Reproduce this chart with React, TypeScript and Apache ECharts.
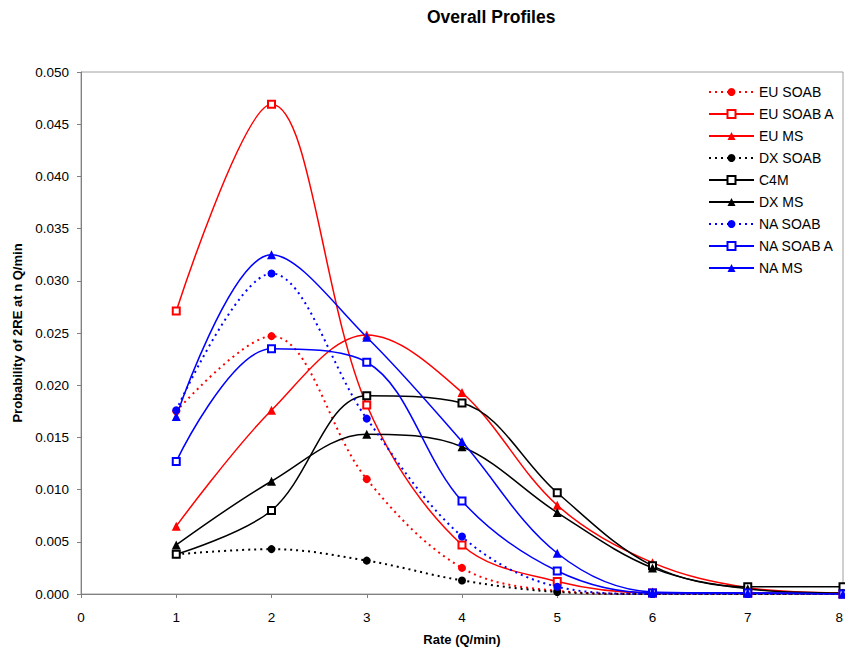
import React, { useEffect, useRef } from "react";
import * as echarts from "echarts";

const rates = [1, 2, 3, 4, 5, 6, 7, 8];
const euSoab = [0.0175, 0.0247, 0.011, 0.0025, 0.0003, 0.0, 0.0, 0.0];
const euSoabA = [0.0271, 0.0469, 0.0181, 0.0047, 0.0012, 0.0001, 0.0001, 0.0];
const euMs = [0.0065, 0.0176, 0.0248, 0.0193, 0.0085, 0.003, 0.0006, 0.0001];
const dxSoab = [0.0038, 0.0043, 0.0032, 0.0013, 0.0002, 0.0, 0.0, 0.0];
const c4m = [0.0038, 0.008, 0.019, 0.0183, 0.0097, 0.0027, 0.0007, 0.0007];
const dxMs = [0.0047, 0.0108, 0.0153, 0.0141, 0.0078, 0.0025, 0.0005, 0.0001];
const naSoab = [0.0176, 0.0307, 0.0168, 0.0055, 0.0007, 0.0, 0.0, 0.0];
const naSoabA = [0.0127, 0.0235, 0.0222, 0.0089, 0.0022, 0.0001, 0.0001, 0.0];
const naMs = [0.017, 0.0325, 0.0246, 0.0146, 0.0039, 0.0002, 0.0001, 0.0];

const seriesDefs = [
  { name: "EU SOAB", data: euSoab, color: "#FF0000", symbol: "circle", dotted: true },
  { name: "EU SOAB A", data: euSoabA, color: "#FF0000", symbol: "emptyRect", dotted: false },
  { name: "EU MS", data: euMs, color: "#FF0000", symbol: "triangle", dotted: false },
  { name: "DX SOAB", data: dxSoab, color: "#000000", symbol: "circle", dotted: true },
  { name: "C4M", data: c4m, color: "#000000", symbol: "emptyRect", dotted: false },
  { name: "DX MS", data: dxMs, color: "#000000", symbol: "triangle", dotted: false },
  { name: "NA SOAB", data: naSoab, color: "#0000FF", symbol: "circle", dotted: true },
  { name: "NA SOAB A", data: naSoabA, color: "#0000FF", symbol: "emptyRect", dotted: false },
  { name: "NA MS", data: naMs, color: "#0000FF", symbol: "triangle", dotted: false },
];

const FONT = "'Liberation Sans', Arial, sans-serif";

export default function App() {
  const ref = useRef<HTMLDivElement>(null);
  useEffect(() => {
    if (!ref.current) return;
    document.body.style.margin = "0";
    const chart = echarts.init(ref.current, undefined, { renderer: "svg" });
    chart.setOption({
      animation: false,
      backgroundColor: "#ffffff",
      title: {
        text: "Overall Profiles",
        left: 422,
        top: 3,
        textStyle: { fontFamily: FONT, fontSize: 17.5, fontWeight: "bold", color: "#000" },
      },
      legend: {
        orient: "vertical",
        left: 703,
        top: 80,
        itemWidth: 45,
        itemHeight: 10,
        itemGap: 8,
        textStyle: { fontFamily: FONT, fontSize: 14, color: "#000" },
        data: seriesDefs.map((s) => s.name),
      },
      grid: {
        left: 81,
        right: 2,
        top: 72,
        bottom: 53,
        outerBoundsMode: "none",
        containLabel: false,
        show: true,
        borderColor: "#a0a0a0",
        borderWidth: 1,
        backgroundColor: "transparent",
      },
      xAxis: {
        type: "value",
        min: 0,
        max: 8,
        interval: 1,
        name: "Rate (Q/min)",
        nameLocation: "middle",
        nameGap: 39,
        nameTextStyle: { fontFamily: FONT, fontSize: 13, fontWeight: "bold", color: "#000" },
        axisLine: { show: true, lineStyle: { color: "#808080", width: 1 } },
        axisTick: { show: true, inside: false, length: 4, lineStyle: { color: "#808080" } },
        axisLabel: {
          fontFamily: FONT,
          fontSize: 13.5,
          color: "#000",
          margin: 16,
          alignMaxLabel: "right",
        },
        splitLine: { show: false },
      },
      yAxis: {
        type: "value",
        min: 0,
        max: 0.05,
        interval: 0.005,
        name: "Probability of 2RE at n Q/min",
        nameLocation: "middle",
        nameGap: 56,
        nameTextStyle: { fontFamily: FONT, fontSize: 13, fontWeight: "bold", color: "#000" },
        axisLine: { show: true, lineStyle: { color: "#808080", width: 1 } },
        axisTick: { show: true, inside: false, length: 4, lineStyle: { color: "#808080" } },
        axisLabel: {
          fontFamily: FONT,
          fontSize: 13.5,
          color: "#000",
          margin: 12,
          formatter: (v: number) => v.toFixed(3),
        },
        splitLine: { show: false },
      },
      series: seriesDefs.map((s) => ({
        name: s.name,
        type: "line",
        smooth: 0.35,
        data: rates.map((r, i) => [r, s.data[i]]),
        symbol: s.symbol,
        symbolSize: s.symbol === "triangle" ? 9 : s.symbol === "circle" ? 8 : 7,
        showSymbol: true,
        lineStyle: {
          color: s.color,
          width: s.dotted ? 2 : 1.5,
          type: s.dotted ? [2, 4] : "solid",
        },
        itemStyle: {
          color: s.color,
          borderWidth: s.symbol === "emptyRect" ? 1.5 : 0,
        },
      })),
    });
    return () => chart.dispose();
  }, []);
  return <div ref={ref} style={{ width: 845, height: 647 }} />;
}
